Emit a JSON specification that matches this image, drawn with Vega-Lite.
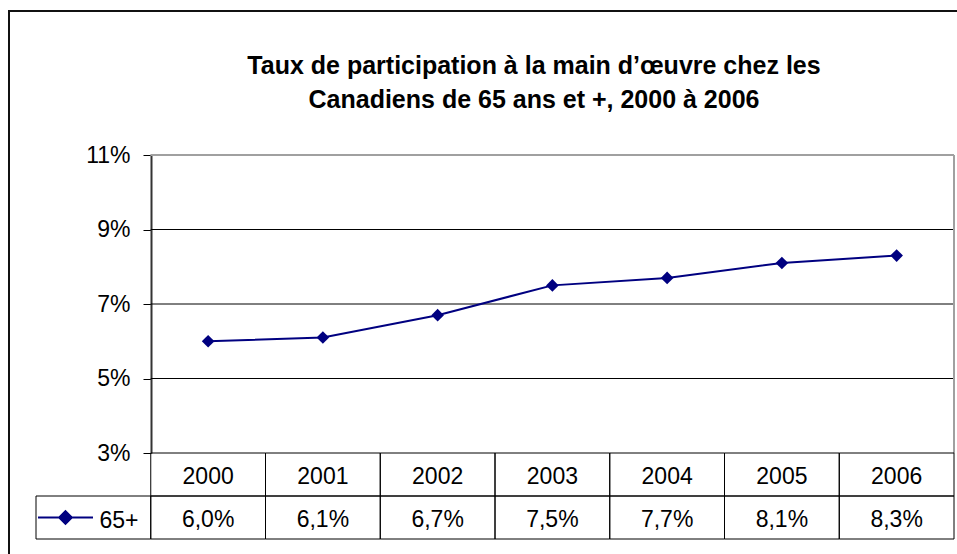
{
  "$schema": "https://vega.github.io/schema/vega-lite/v6.json",
  "width": 960,
  "height": 560,
  "autosize": {"type": "none"},
  "padding": {"left": 9, "top": 11, "right": 0, "bottom": 0},
  "background": "white",
  "config": {
    "view": {"stroke": "#111111", "strokeWidth": 2},
    "font": "Liberation Sans",
    "text": {"font": "Liberation Sans"}
  },
  "title": {
    "text": ["Taux de participation à la main d’œuvre chez les", "Canadiens de 65 ans et +, 2000 à 2006"],
    "font": "Liberation Sans",
    "fontSize": 25,
    "fontWeight": "bold",
    "lineHeight": 34,
    "anchor": "middle",
    "frame": "group",
    "dx": 45,
    "offset": -122,
    "baseline": "alphabetic",
    "color": "black"
  },
  "datasets": {
    "series": [
      {"year": "2000", "value": 6.0},
      {"year": "2001", "value": 6.1},
      {"year": "2002", "value": 6.7},
      {"year": "2003", "value": 7.5},
      {"year": "2004", "value": 7.7},
      {"year": "2005", "value": 8.1},
      {"year": "2006", "value": 8.3}
    ],
    "grid": [{"v": 5}, {"v": 7}, {"v": 9}],
    "table": [
      {"col": "2000", "row": "yr", "label": "2000"},
      {"col": "2001", "row": "yr", "label": "2001"},
      {"col": "2002", "row": "yr", "label": "2002"},
      {"col": "2003", "row": "yr", "label": "2003"},
      {"col": "2004", "row": "yr", "label": "2004"},
      {"col": "2005", "row": "yr", "label": "2005"},
      {"col": "2006", "row": "yr", "label": "2006"},
      {"col": "2000", "row": "val", "label": "6,0%"},
      {"col": "2001", "row": "val", "label": "6,1%"},
      {"col": "2002", "row": "val", "label": "6,7%"},
      {"col": "2003", "row": "val", "label": "7,5%"},
      {"col": "2004", "row": "val", "label": "7,7%"},
      {"col": "2005", "row": "val", "label": "8,1%"},
      {"col": "2006", "row": "val", "label": "8,3%"},
      {"col": "key", "row": "val", "label": ""}
    ],
    "legend": [{"col": "key", "row": "val", "name": "65+"}]
  },
  "layer": [
    {
      "layer": [
        {
          "data": {"name": "grid"},
          "mark": {"type": "rule", "color": "black", "strokeWidth": 1},
          "encoding": {
            "x": {"datum": "2000", "bandPosition": 0, "axis": null, "scale": {"type": "band", "domain": ["key", "2000", "2001", "2002", "2003", "2004", "2005", "2006"], "range": [27, 945], "paddingInner": 0, "paddingOuter": 0}},
            "x2": {"datum": "2006", "bandPosition": 1},
            "y": {"field": "v", "type": "quantitative", "scale": {"domain": [3, 11], "range": [442, 144], "nice": false, "zero": false},
              "axis": {"title": null, "values": [3, 5, 7, 9, 11], "labelExpr": "datum.value + '%'", "offset": -142, "grid": false, "domain": true, "domainColor": "#333333", "domainWidth": 2, "ticks": true, "tickColor": "black", "tickSize": 8, "tickWidth": 1, "labelFont": "Liberation Sans", "labelFontSize": 23, "labelColor": "black", "labelPadding": 13}}
          }
        },
        {
          "data": {"name": "grid"},
          "mark": {"type": "rule", "color": "#a0a0a0", "strokeWidth": 2},
          "encoding": {
            "x": {"datum": "2000", "bandPosition": 0, "axis": null, "scale": {"type": "band", "domain": ["key", "2000", "2001", "2002", "2003", "2004", "2005", "2006"], "range": [27, 945], "paddingInner": 0, "paddingOuter": 0}},
            "x2": {"datum": "2006", "bandPosition": 1},
            "y": {"datum": 11, "type": "quantitative", "scale": {"domain": [3, 11], "range": [442, 144], "nice": false, "zero": false}}
          }
        },
        {
          "data": {"name": "grid"},
          "mark": {"type": "rule", "color": "#a0a0a0", "strokeWidth": 2},
          "encoding": {
            "x": {"datum": "2006", "bandPosition": 1, "axis": null, "scale": {"type": "band", "domain": ["key", "2000", "2001", "2002", "2003", "2004", "2005", "2006"], "range": [27, 945], "paddingInner": 0, "paddingOuter": 0}},
            "y": {"datum": 3, "type": "quantitative", "scale": {"domain": [3, 11], "range": [442, 144], "nice": false, "zero": false}},
            "y2": {"datum": 11}
          }
        },
        {
          "data": {"name": "series"},
          "mark": {"type": "line", "color": "#000080", "strokeWidth": 2},
          "encoding": {
            "x": {"field": "year", "type": "nominal", "axis": null, "scale": {"type": "band", "domain": ["key", "2000", "2001", "2002", "2003", "2004", "2005", "2006"], "range": [27, 945], "paddingInner": 0, "paddingOuter": 0}},
            "y": {"field": "value", "type": "quantitative", "scale": {"domain": [3, 11], "range": [442, 144], "nice": false, "zero": false}}
          }
        },
        {
          "data": {"name": "series"},
          "mark": {"type": "point", "shape": "diamond", "filled": true, "color": "#000080", "size": 160, "opacity": 1},
          "encoding": {
            "x": {"field": "year", "type": "nominal", "axis": null, "scale": {"type": "band", "domain": ["key", "2000", "2001", "2002", "2003", "2004", "2005", "2006"], "range": [27, 945], "paddingInner": 0, "paddingOuter": 0}},
            "y": {"field": "value", "type": "quantitative", "scale": {"domain": [3, 11], "range": [442, 144], "nice": false, "zero": false}}
          }
        }
      ]
    },
    {
      "layer": [
        {
          "data": {"name": "table"},
          "mark": {"type": "rect", "filled": false, "stroke": "black", "strokeWidth": 1},
          "encoding": {
            "x": {"field": "col", "type": "nominal", "axis": null, "scale": {"type": "band", "domain": ["key", "2000", "2001", "2002", "2003", "2004", "2005", "2006"], "range": [27, 945], "paddingInner": 0, "paddingOuter": 0}},
            "y": {"field": "row", "type": "nominal", "axis": null, "scale": {"type": "band", "domain": ["yr", "val"], "range": [442, 528], "paddingInner": 0, "paddingOuter": 0}}
          }
        },
        {
          "data": {"name": "table"},
          "mark": {"type": "text", "fontSize": 23, "color": "black", "baseline": "middle", "align": "center", "dy": 2},
          "encoding": {
            "x": {"field": "col", "type": "nominal", "axis": null, "scale": {"type": "band", "domain": ["key", "2000", "2001", "2002", "2003", "2004", "2005", "2006"], "range": [27, 945], "paddingInner": 0, "paddingOuter": 0}},
            "y": {"field": "row", "type": "nominal", "axis": null, "scale": {"type": "band", "domain": ["yr", "val"], "range": [442, 528], "paddingInner": 0, "paddingOuter": 0}},
            "text": {"field": "label"}
          }
        },
        {
          "data": {"name": "legend"},
          "mark": {"type": "point", "shape": "M-1,0L1,0M0,-0.23L0.23,0L0,0.23L-0.23,0Z", "size": 3025, "filled": true, "fill": "#000080", "stroke": "#000080", "strokeWidth": 2, "opacity": 1},
          "encoding": {
            "x": {"field": "col", "type": "nominal", "bandPosition": 0.257, "axis": null, "scale": {"type": "band", "domain": ["key", "2000", "2001", "2002", "2003", "2004", "2005", "2006"], "range": [27, 945], "paddingInner": 0, "paddingOuter": 0}},
            "y": {"field": "row", "type": "nominal", "axis": null, "scale": {"type": "band", "domain": ["yr", "val"], "range": [442, 528], "paddingInner": 0, "paddingOuter": 0}}
          }
        },
        {
          "data": {"name": "legend"},
          "mark": {"type": "text", "fontSize": 23, "color": "black", "baseline": "middle", "align": "center", "dy": 3},
          "encoding": {
            "x": {"field": "col", "type": "nominal", "bandPosition": 0.723, "axis": null, "scale": {"type": "band", "domain": ["key", "2000", "2001", "2002", "2003", "2004", "2005", "2006"], "range": [27, 945], "paddingInner": 0, "paddingOuter": 0}},
            "y": {"field": "row", "type": "nominal", "axis": null, "scale": {"type": "band", "domain": ["yr", "val"], "range": [442, 528], "paddingInner": 0, "paddingOuter": 0}},
            "text": {"field": "name"}
          }
        }
      ]
    }
  ],
  "resolve": {"scale": {"y": "independent"}}
}
